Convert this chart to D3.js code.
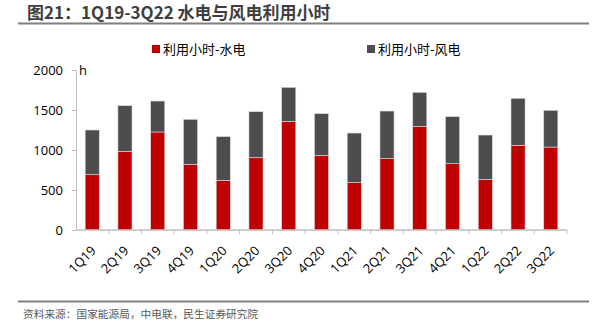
<!DOCTYPE html>
<html>
<head>
<meta charset="utf-8">
<script src="https://cdn.jsdelivr.net/npm/d3@7"></script>
<style>
  body { margin: 0; background: #fff; }
  svg { display: block; font-family: "Noto Sans CJK SC", "Noto Sans", sans-serif; }
</style>
</head>
<body>
<svg id="chart" width="596" height="331"></svg>
<script>
// quarterly utilisation hours
var quarters = ["1Q19","2Q19","3Q19","4Q19","1Q20","2Q20","3Q20","4Q20","1Q21","2Q21","3Q21","4Q21","1Q22","2Q22","3Q22"]
var hydroHours = [691, 983, 1225, 821, 621, 908, 1358, 933, 596, 896, 1296, 829, 633, 1058, 1037]
var windHours = [559, 571, 387, 562, 546, 571, 425, 521, 616, 591, 425, 588, 554, 588, 459]
var yTicks = [0, 500, 1000, 1500, 2000]
var seriesNames = ["利用小时-水电", "利用小时-风电"]
var colors = ["#c00000", "#4d4d4f"]

var svg = d3.select("#chart")

// title + rule under it
svg.append("text")
  .attr("x", 27).attr("y", 19)
  .style("font-size", "17px").style("font-weight", "bold").style("fill", "#3f3f3f")
  .text("图21：1Q19-3Q22 水电与风电利用小时")
svg.append("line")
  .attr("x1", 18).attr("x2", 589).attr("y1", 23.5).attr("y2", 23.5)
  .style("stroke", "#7f7f7f").style("stroke-width", 2)

var plotLeft = 76, plotRight = 567, plotTop = 70, plotBottom = 230

var x = d3.scaleBand().domain(quarters).range([plotLeft, plotRight]).paddingInner(0.57).paddingOuter(0.28)
var band = d3.scaleBand().domain(quarters).range([plotLeft, plotRight])
var y = d3.scaleLinear().domain([0, 2000]).range([plotBottom, plotTop])

var rows = quarters.map(function(q, i){
  return {q: q, hydro: hydroHours[i], wind: windHours[i]}
})
var stacked = d3.stack().keys(["hydro", "wind"])(rows)

// bars
svg.append("g")
  .selectAll("g")
  .data(stacked)
  .enter()
  .append("g")
  .style("fill", function(d, i){ return colors[i] })
  .selectAll("rect")
  .data(function(d){ return d })
  .enter()
  .append("rect")
  .attr("x", function(d){ return x(d.data.q) })
  .attr("y", function(d){ return y(d[1]) })
  .attr("width", x.bandwidth())
  .attr("height", function(d){ return y(d[0]) - y(d[1]) })
  .style("stroke", "#d9d9d9").style("stroke-width", 0.6)

// y axis
var yAxis = d3.axisLeft(y).tickValues(yTicks).tickFormat(d3.format("d")).tickSize(4).tickSizeOuter(0)
var yg = svg.append("g")
  .attr("transform", "translate(" + plotLeft + ",0)")
  .call(yAxis)
yg.select(".domain").style("stroke", "#bfbfbf")
yg.selectAll(".tick line").style("stroke", "#bfbfbf")
yg.selectAll(".tick text")
  .attr("x", -13)
  .style("font-size", "13px").style("fill", "#000")
  .style("font-family", "'Open Sans', 'Noto Sans', sans-serif")

svg.append("text")
  .attr("x", 79).attr("y", 75)
  .style("font-size", "13px")
  .style("font-family", "'Open Sans', 'Noto Sans', sans-serif")
  .text("h")

// x axis: ticks sit on band edges
var xg = svg.append("g").attr("transform", "translate(0," + plotBottom + ")")
xg.append("line")
  .attr("x1", plotLeft).attr("x2", plotRight)
  .style("stroke", "#bfbfbf").style("stroke-width", 1.5)
xg.selectAll(".edge")
  .data(quarters)
  .enter()
  .append("line")
  .attr("x1", function(d){ return band(d) + band.step() })
  .attr("x2", function(d){ return band(d) + band.step() })
  .attr("y1", 0).attr("y2", 4)
  .style("stroke", "#bfbfbf")
xg.selectAll(".lbl")
  .data(quarters)
  .enter()
  .append("text")
  .attr("transform", function(d){
    return "translate(" + (band(d) + band.bandwidth() / 2 - 2) + ",15) rotate(-45)"
  })
  .attr("text-anchor", "end")
  .attr("dy", "0.7em")
  .style("font-size", "13px")
  .style("font-family", "'Open Sans', 'Noto Sans', sans-serif")
  .text(function(d){ return d })

// legend
var legendX = [152, 367]
seriesNames.forEach(function(name, i){
  svg.append("rect")
    .attr("x", legendX[i]).attr("y", 45)
    .attr("width", 8).attr("height", 8)
    .style("fill", colors[i])
  svg.append("text")
    .attr("x", legendX[i] + 11).attr("y", 54)
    .style("font-size", "13px").style("fill", "#000")
    .text(name)
})

// source footer
svg.append("line")
  .attr("x1", 18).attr("x2", 589).attr("y1", 301.5).attr("y2", 301.5)
  .style("stroke", "#7f7f7f").style("stroke-width", 2)
svg.append("text")
  .attr("x", 23).attr("y", 318)
  .style("font-size", "10.7px").style("fill", "#595959")
  .text("资料来源：国家能源局，中电联，民生证券研究院")
</script>
</body>
</html>
